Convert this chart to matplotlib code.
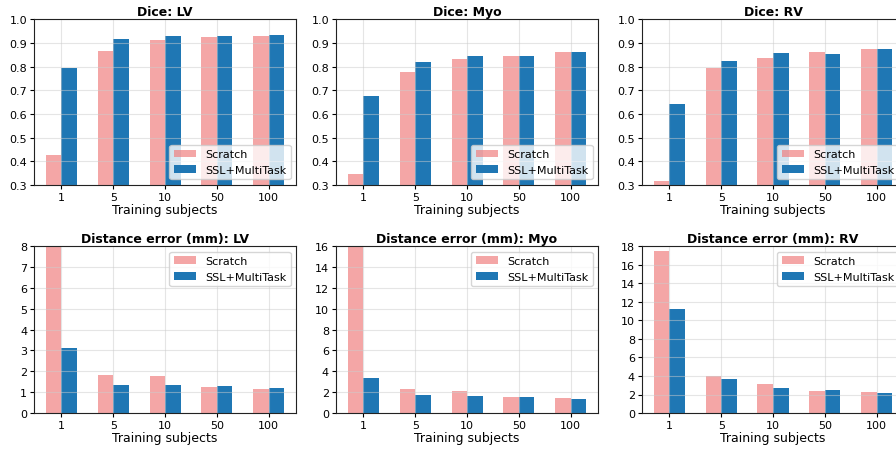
import numpy as np
import matplotlib
matplotlib.use("Agg")
import matplotlib.pyplot as plt

subjects = ["1", "5", "10", "50", "100"]
structures = ["LV", "Myo", "RV"]

dice_scratch = {
    "LV": [0.425, 0.865, 0.912, 0.924, 0.928],
    "Myo": [0.345, 0.778, 0.832, 0.845, 0.862],
    "RV": [0.315, 0.794, 0.836, 0.861, 0.874],
}
dice_ssl = {
    "LV": [0.794, 0.916, 0.929, 0.929, 0.933],
    "Myo": [0.677, 0.820, 0.845, 0.845, 0.862],
    "RV": [0.643, 0.824, 0.857, 0.853, 0.874],
}
dist_scratch = {
    "LV": [9.5, 1.83, 1.78, 1.25, 1.15],
    "Myo": [17.5, 2.31, 2.12, 1.54, 1.44],
    "RV": [17.5, 3.97, 3.10, 2.38, 2.27],
}
dist_ssl = {
    "LV": [3.12, 1.35, 1.35, 1.30, 1.20],
    "Myo": [3.37, 1.73, 1.63, 1.54, 1.35],
    "RV": [11.2, 3.68, 2.70, 2.49, 2.13],
}
dist_ylim = {"LV": 8, "Myo": 16, "RV": 18}

col_scratch = "lightcoral"
col_ssl = "#1f77b4"
width = 0.3

fig = plt.figure(figsize=(8.96, 4.52), dpi=100)

lefts = [0.038, 0.375, 0.7165]
w = 0.2925
x = np.arange(len(subjects))


def draw(ax, sc, ssl, title, ylim, yticks, loc):
    ax.bar(x - width / 2, sc, width, color=col_scratch, alpha=0.7, label="Scratch")
    ax.bar(x + width / 2, ssl, width, color=col_ssl, label="SSL+MultiTask")
    ax.set_xticks(x)
    ax.set_xticklabels(subjects)
    ax.set_ylim(*ylim)
    ax.set_yticks(yticks)
    ax.set_title(title, fontsize=9, fontweight="bold", pad=3)
    ax.set_xlabel("Training subjects", fontsize=9, labelpad=1)
    ax.tick_params(labelsize=8, length=3, pad=2)
    ax.grid(True, color="#cccccc", alpha=0.5, linewidth=0.8)
    for s in ax.spines.values():
        s.set_color("#222222")
    ax.legend(loc=loc, fontsize=8, framealpha=0.8)


for i, st in enumerate(structures):
    ax = fig.add_axes([lefts[i], 0.5885, w, 0.367])
    draw(ax, dice_scratch[st], dice_ssl[st], f"Dice: {st}", (0.3, 1.0),
         np.round(np.arange(0.3, 1.01, 0.1), 1), "lower right")
    ax.set_yticklabels([f"{v:.1f}" for v in np.arange(0.3, 1.01, 0.1)])

    ax2 = fig.add_axes([lefts[i], 0.084, w, 0.369])
    top = dist_ylim[st]
    step = 1 if top <= 8 else 2
    draw(ax2, dist_scratch[st], dist_ssl[st], f"Distance error (mm): {st}", (0, top),
         np.arange(0, top + 1, step), "upper right")

fig.savefig("out.png", dpi=100)
